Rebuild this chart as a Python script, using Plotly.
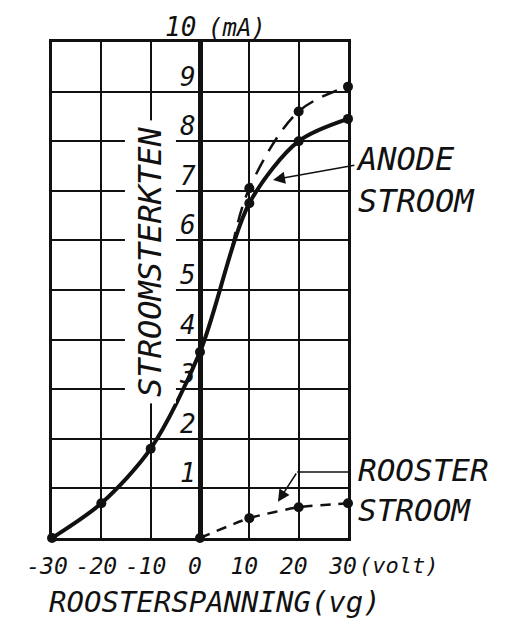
import plotly.graph_objects as go

# ---- data ----
grid_voltage = [-30, -20, -10, 0, 10, 20, 30]          # V
anode_current = [0.0, 0.7, 1.8, 3.75, 6.75, 8.0, 8.45]  # mA

total_voltage = [6.5, 10, 20, 30]
total_current = [5.85, 7.05, 8.6, 9.1]                  # dashed upper curve (mA)
total_marker_voltage = [10, 20, 30]
total_marker_current = [7.05, 8.6, 9.1]

rooster_voltage = [0, 10, 20, 30]
rooster_current = [0.0, 0.4, 0.62, 0.7]                 # mA

x_ticks = [-30, -20, -10, 0, 10, 20, 30]
x_ticktext = ["-30", "-20", "-10", "0", "10", "20", "30"]
y_ticks = [1, 2, 3, 4, 5, 6, 7, 8, 9, 10]
y_ticktext = ["1", "2", "3", "4", "5", "6", "7", "8", "9", "10"]

FONT = "DejaVu Sans Mono"
BLACK = "#111111"

# the page body adds an 8px margin, so the figure is sized to fit the window with it
W, H = 497, 619
ML, MT, MR, MB = 44, 34, 157, 89

fig = go.Figure()

fig.add_trace(go.Scatter(
    x=grid_voltage, y=anode_current, mode="lines+markers",
    line=dict(color=BLACK, width=4, shape="spline", smoothing=0.85),
    marker=dict(color=BLACK, size=10), cliponaxis=False, showlegend=False))

fig.add_trace(go.Scatter(
    x=total_voltage, y=total_current, mode="lines",
    line=dict(color=BLACK, width=2.5, shape="spline", smoothing=1.0, dash="16px,10px"),
    cliponaxis=False, showlegend=False))
fig.add_trace(go.Scatter(
    x=total_marker_voltage, y=total_marker_current, mode="markers",
    marker=dict(color=BLACK, size=10, line=dict(width=0)),
    cliponaxis=False, showlegend=False))

fig.add_trace(go.Scatter(
    x=rooster_voltage, y=rooster_current, mode="lines+markers",
    line=dict(color=BLACK, width=2.5, shape="spline", smoothing=0.6, dash="10px,8px"),
    marker=dict(color=BLACK, size=10, line=dict(width=0)), cliponaxis=False, showlegend=False))


def px(xd):
    return (xd + 30) / 60.0


def py(yd):
    return yd / 10.0


annotations = []
# y tick labels, sitting just above their grid lines, left of the V=0 axis
for v, t in zip(y_ticks, y_ticktext):
    annotations.append(dict(x=0, y=v, xref="x", yref="y", text="<i>" + t + "</i>",
                            showarrow=False, xanchor="right", yanchor="bottom",
                            xshift=-2, yshift=-2,
                            font=dict(family=FONT, size=26, color=BLACK)))
annotations.append(dict(x=0, y=10, xref="x", yref="y", text="<i>(mA)</i>",
                        showarrow=False, xanchor="left", yanchor="bottom",
                        xshift=6, yshift=-2,
                        font=dict(family=FONT, size=24, color=BLACK)))
annotations.append(dict(x=1.0, y=0, xref="paper", yref="paper", text="<i>(volt)</i>",
                        showarrow=False, xanchor="left", yanchor="top",
                        xshift=9, yshift=-13,
                        font=dict(family=FONT, size=22, color=BLACK)))
annotations.append(dict(x=0.55, y=0, xref="paper", yref="paper",
                        text="<i>ROOSTERSPANNING(vg)</i>",
                        showarrow=False, xanchor="center", yanchor="top",
                        yshift=-45,
                        font=dict(family=FONT, size=29, color=BLACK)))
annotations.append(dict(x=px(-10), y=py(5.56), xref="paper", yref="paper",
                        text="<i>STROOMSTERKTEN</i>", textangle=-90,
                        showarrow=False, bgcolor="white", borderpad=6,
                        font=dict(family=FONT, size=32, color=BLACK)))
annotations.append(dict(x=px(31.2), y=py(7.22), xref="paper", yref="paper",
                        text="<i>ANODE<br>STROOM</i>", align="left",
                        showarrow=False, xanchor="left", yanchor="middle",
                        font=dict(family=FONT, size=32, color=BLACK)))
annotations.append(dict(x=px(31.6), y=py(0.97), xref="paper", yref="paper",
                        text="<i>ROOSTER<br>STROOM</i>", align="left",
                        showarrow=False, xanchor="left", yanchor="middle",
                        font=dict(family=FONT, size=31, color=BLACK)))
# arrows
annotations.append(dict(x=14.8, y=7.22, ax=31.6, ay=7.52, xref="x", yref="y",
                        axref="x", ayref="y", text="", showarrow=True,
                        arrowhead=2, arrowsize=1.6, arrowwidth=1.5, arrowcolor=BLACK))
annotations.append(dict(x=15.8, y=0.73, ax=19.7, ay=1.33, xref="x", yref="y",
                        axref="x", ayref="y", text="", showarrow=True,
                        arrowhead=2, arrowsize=1.6, arrowwidth=1.5, arrowcolor=BLACK))

shapes = [dict(type="line", xref="x", yref="y", x0=31.4, y0=1.33, x1=19.7, y1=1.33,
               line=dict(color=BLACK, width=1.5))]

fig.update_layout(
    width=W, height=H,
    margin=dict(l=ML, r=MR, t=MT, b=MB, autoexpand=False),
    paper_bgcolor="white", plot_bgcolor="white",
    annotations=annotations, shapes=shapes,
    xaxis=dict(range=[-30, 30], tickvals=x_ticks, ticktext=x_ticktext,
               showgrid=True, gridcolor=BLACK, gridwidth=2,
               zeroline=True, zerolinecolor=BLACK, zerolinewidth=4.5,
               showline=True, mirror=True, linecolor=BLACK, linewidth=3,
               ticks="", ticklabelstandoff=5, ticklabelshift=-5, automargin=False,
               tickfont=dict(family=FONT, size=23, color=BLACK, style="italic"),
               fixedrange=True),
    yaxis=dict(range=[0, 10], dtick=1, showticklabels=False,
               showgrid=True, gridcolor=BLACK, gridwidth=2,
               zeroline=True, zerolinecolor=BLACK, zerolinewidth=5,
               showline=True, mirror=True, linecolor=BLACK, linewidth=3,
               ticks="", automargin=False, fixedrange=True),
)

fig.write_html("out.html")
